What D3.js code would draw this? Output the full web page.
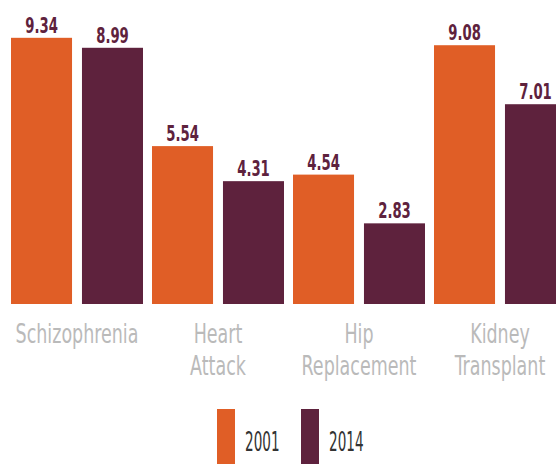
<!DOCTYPE html>
<html>
<head>
<meta charset="utf-8">
<script src="https://cdn.jsdelivr.net/npm/d3@7"></script>
<style>
  html, body { margin: 0; padding: 0; background: #fff; }
  svg { display: block; }
</style>
</head>
<body>
<svg id="chart" width="556" height="464"></svg>
<script>
const categories = ['Schizophrenia', 'Heart Attack', 'Hip Replacement', 'Kidney Transplant'];
const years = ['2001', '2014'];
const values2001 = [9.34, 5.54, 4.54, 9.08];
const values2014 = [8.99, 4.31, 2.83, 7.01];

const colors = { '2001': '#e05e26', '2014': '#5e223d' };
const narrow = '"DejaVu Sans Condensed", "DejaVu Sans", sans-serif';

const svg = d3.select('#chart');
const baseY = 304;

const x0 = d3.scaleBand().domain(categories).range([11, 575]).paddingInner(0).paddingOuter(0);
const x1 = d3.scaleBand().domain(years).range([0, 132]).paddingInner(0.14);
const y = d3.scaleLinear().domain([0, 10]).range([baseY, 19]);

const data = categories.map((c, i) => ({
  category: c,
  bars: [
    { year: '2001', value: values2001[i] },
    { year: '2014', value: values2014[i] }
  ]
}));

let groups = svg.selectAll('.group')
  .data(data)
  .enter().append('g')
    .attr('class', 'group')
    .attr('transform', d => `translate(${x0(d.category)},0)`);

groups.selectAll('rect')
  .data(d => d.bars)
  .enter().append('rect')
    .attr('x', d => x1(d.year))
    .attr('y', d => y(d.value))
    .attr('width', x1.bandwidth())
    .attr('height', d => baseY - y(d.value))
    .attr('fill', d => colors[d.year]);

// value labels, squeezed to look like the condensed face of the original
groups.selectAll('.value')
  .data(d => d.bars)
  .enter().append('g')
    .attr('class', 'value')
    .attr('transform', d => `translate(${x1(d.year) + x1.bandwidth() / 2},${y(d.value) - 5}) scale(0.7,1)`)
  .append('text')
    .attr('text-anchor', 'middle')
    .style('font-family', narrow)
    .style('font-weight', 'bold')
    .style('font-size', '21px')
    .attr('fill', '#5e223d')
    .text(d => d.value.toFixed(2));

// category labels
let cat = groups.append('g')
  .attr('transform', `translate(${132 / 2},343) scale(0.72,1)`)
  .append('text')
    .attr('text-anchor', 'middle')
    .style('font-family', narrow)
    .style('font-weight', 300)
    .style('font-size', '27px')
    .attr('fill', '#bababa');

cat.selectAll('tspan')
  .data(d => d.category.split(' '))
  .enter().append('tspan')
    .attr('x', 0)
    .attr('y', (d, i) => i * 32)
    .text(d => d);

// legend
const legendX = d3.scaleOrdinal().domain(years).range([217, 301]);

let legend = svg.selectAll('.legend')
  .data(years)
  .enter().append('g')
    .attr('class', 'legend')
    .attr('transform', d => `translate(${legendX(d)},409)`);

legend.append('rect')
  .attr('width', 18)
  .attr('height', 60)
  .attr('fill', d => colors[d]);

legend.append('g')
  .attr('transform', 'translate(28,42) scale(0.58,1)')
  .append('text')
    .style('font-family', narrow)
    .style('font-size', '26px')
    .attr('fill', '#333')
    .text(d => d);
</script>
</body>
</html>
